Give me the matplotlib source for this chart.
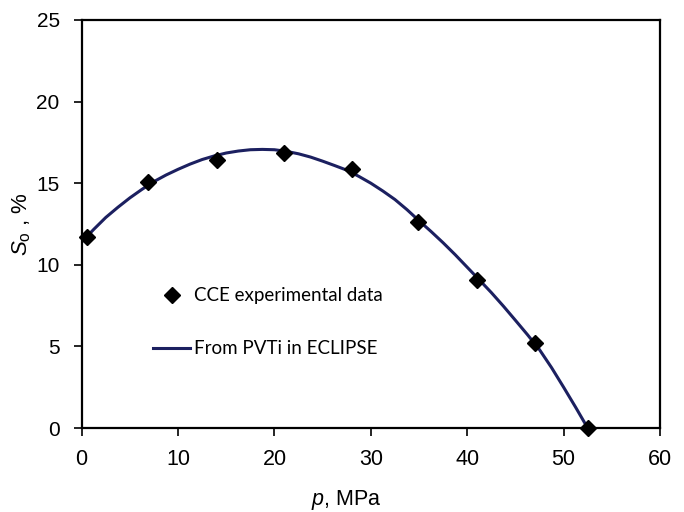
import numpy as np
import matplotlib
matplotlib.use("Agg")
import matplotlib.pyplot as plt

# CCE experimental data (diamonds)
p_exp = [0.6, 6.9, 14.0, 21.0, 28.0, 34.9, 41.0, 47.0, 52.5]
so_exp = [11.7, 15.05, 16.45, 16.85, 15.85, 12.6, 9.07, 5.2, 0.0]

# PVTi / ECLIPSE curve
p_pvt = [0, 1.25, 2.5, 3.75, 5, 6.25, 7.5, 8.75, 10, 11.25, 12.5, 13.75,
         15, 16.25, 17.5, 18.75, 20, 21.25, 22.5, 23.75, 25, 26.25, 27.5,
         28.75, 30, 31.25, 32.5, 33.75, 35, 36.25, 37.5, 38.75, 40, 41.25,
         42.5, 43.75, 45, 46.25, 47.5, 48.75, 50, 51.25, 52.5]
so_pvt = [11.4, 12.17, 12.9, 13.52, 14.1, 14.62, 15.1, 15.5, 15.85, 16.17,
          16.45, 16.67, 16.85, 16.97, 17.05, 17.07, 17.05, 16.95, 16.8, 16.6,
          16.35, 16.08, 15.8, 15.42, 15.0, 14.52, 14.0, 13.38, 12.7, 12.04,
          11.35, 10.62, 9.85, 9.08, 8.3, 7.47, 6.6, 5.72, 4.8, 3.7, 2.5,
          1.27, 0.0]

x_ticks = [0, 10, 20, 30, 40, 50, 60]
y_ticks = [0, 5, 10, 15, 20, 25]

plt.rcParams['font.family'] = ['Liberation Sans', 'DejaVu Sans']
plt.rcParams['mathtext.fontset'] = 'custom'
plt.rcParams['mathtext.rm'] = 'Liberation Sans'
plt.rcParams['mathtext.it'] = 'Liberation Sans:italic'

fig = plt.figure(figsize=(6.84, 5.12), dpi=100)
ax = fig.add_axes([0.1194, 0.164, 0.8455, 0.797])

ax.plot(p_pvt, so_pvt, color='#1c2060', lw=2.2, label='From PVTi in ECLIPSE',
        zorder=2, solid_joinstyle='round')
ax.plot(p_exp, so_exp, linestyle='none', marker='D', ms=8.5, color='black',
        label='CCE experimental data', zorder=3, clip_on=False)

ax.set_xlim(0, 60)
ax.set_ylim(0, 25)
ax.set_xticks(x_ticks)
ax.set_yticks(y_ticks)
ax.tick_params(direction='out', length=5.8, width=1.2)
ax.tick_params(axis='x', labelsize=15.5, pad=9)
ax.tick_params(axis='y', labelsize=15, pad=10)
for s in ax.spines.values():
    s.set_linewidth(1.6)

ax.set_xlabel(r'$p$, MPa', fontsize=15.5)
ax.xaxis.set_label_coords(0.457, -0.147)
ax.set_ylabel(r'$S_\mathrm{o}$ , %', fontsize=16)
ax.yaxis.set_label_coords(-0.084, 0.5)

h, l = ax.get_legend_handles_labels()
ax.legend(h[::-1], l[::-1], loc='upper left', bbox_to_anchor=(0.123, 0.345),
          frameon=False, borderpad=0, borderaxespad=0, handlelength=2.0,
          handletextpad=0.2, labelspacing=1.93,
          prop={'family': 'Lato', 'size': 13.5})

fig.savefig('out.png', dpi=100)
